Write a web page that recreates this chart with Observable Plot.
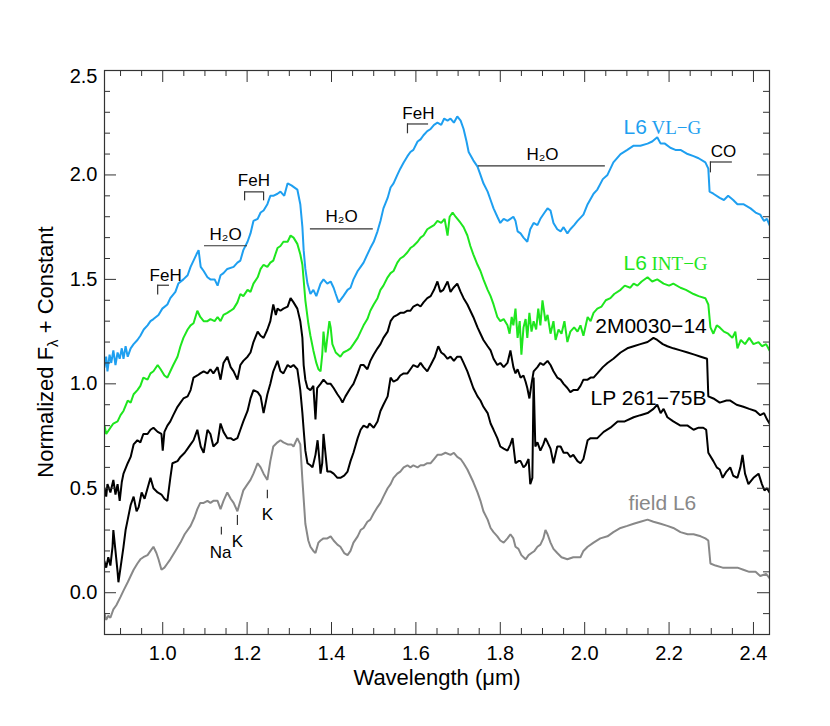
<!DOCTYPE html>
<html><head><meta charset="utf-8">
<script src="https://cdn.jsdelivr.net/npm/d3@7"></script>
<script src="https://cdn.jsdelivr.net/npm/@observablehq/plot@0.6"></script>
<style>body{margin:0;background:#fff}</style>
</head><body><div id="chart"></div>
<script>
// ---- data: [wavelength (um), normalized flux + constant] ----
const vlg = [[0.862,1.08],[0.866,1.13],[0.869,1.06],[0.874,1.14],[0.878,1.10],[0.883,1.16],[0.888,1.09],[0.893,1.15],[0.898,1.12],[0.903,1.17],[0.907,1.12],[0.912,1.18],[0.917,1.13],[0.924,1.17],[0.931,1.19],[0.940,1.21],[0.947,1.23],[0.955,1.26],[0.964,1.28],[0.971,1.30],[0.978,1.31],[0.990,1.33],[0.999,1.36],[1.011,1.38],[1.018,1.41],[1.030,1.44],[1.037,1.48],[1.049,1.50],[1.059,1.52],[1.066,1.56],[1.073,1.59],[1.080,1.62],[1.085,1.64],[1.090,1.56],[1.097,1.54],[1.106,1.51],[1.113,1.50],[1.123,1.50],[1.130,1.47],[1.137,1.52],[1.144,1.53],[1.153,1.55],[1.168,1.56],[1.177,1.58],[1.184,1.59],[1.191,1.64],[1.201,1.68],[1.208,1.72],[1.215,1.78],[1.225,1.79],[1.232,1.82],[1.239,1.83],[1.248,1.86],[1.255,1.90],[1.262,1.90],[1.272,1.91],[1.279,1.92],[1.288,1.90],[1.296,1.96],[1.305,1.95],[1.319,1.93],[1.326,1.86],[1.331,1.75],[1.334,1.64],[1.338,1.55],[1.343,1.48],[1.350,1.43],[1.357,1.45],[1.364,1.42],[1.374,1.48],[1.381,1.50],[1.390,1.48],[1.398,1.49],[1.405,1.46],[1.410,1.43],[1.417,1.39],[1.428,1.42],[1.438,1.45],[1.445,1.46],[1.452,1.50],[1.462,1.54],[1.469,1.56],[1.476,1.58],[1.485,1.62],[1.492,1.65],[1.500,1.68],[1.509,1.73],[1.516,1.78],[1.523,1.84],[1.533,1.89],[1.540,1.94],[1.547,1.96],[1.556,2.00],[1.563,2.03],[1.571,2.06],[1.580,2.09],[1.587,2.11],[1.594,2.12],[1.604,2.16],[1.611,2.17],[1.618,2.19],[1.627,2.21],[1.635,2.22],[1.643,2.24],[1.651,2.25],[1.660,2.24],[1.667,2.27],[1.675,2.26],[1.682,2.27],[1.690,2.25],[1.698,2.28],[1.706,2.26],[1.713,2.22],[1.720,2.16],[1.725,2.11],[1.736,2.07],[1.746,2.04],[1.753,2.00],[1.760,1.96],[1.770,1.92],[1.777,1.88],[1.784,1.84],[1.793,1.80],[1.800,1.77],[1.808,1.79],[1.817,1.78],[1.824,1.79],[1.831,1.80],[1.836,1.78],[1.841,1.73],[1.848,1.72],[1.855,1.70],[1.864,1.68],[1.871,1.74],[1.879,1.77],[1.888,1.76],[1.895,1.79],[1.905,1.82],[1.912,1.84],[1.919,1.83],[1.926,1.77],[1.935,1.74],[1.943,1.73],[1.950,1.75],[1.959,1.72],[1.966,1.74],[1.975,1.76],[1.983,1.78],[1.997,1.81],[2.007,1.86],[2.021,1.91],[2.030,1.93],[2.043,1.98],[2.054,2.00],[2.068,2.06],[2.085,2.10],[2.101,2.12],[2.116,2.14],[2.132,2.14],[2.149,2.15],[2.160,2.16],[2.172,2.18],[2.180,2.15],[2.190,2.15],[2.203,2.13],[2.215,2.12],[2.227,2.12],[2.244,2.10],[2.258,2.09],[2.270,2.08],[2.286,2.06],[2.293,2.03],[2.296,1.92],[2.305,1.91],[2.320,1.89],[2.330,1.88],[2.340,1.90],[2.352,1.88],[2.362,1.86],[2.376,1.86],[2.393,1.84],[2.405,1.82],[2.416,1.81],[2.425,1.78],[2.432,1.79],[2.438,1.76]];

const intg = [[0.862,0.80],[0.866,0.76],[0.876,0.79],[0.883,0.81],[0.893,0.82],[0.900,0.85],[0.907,0.87],[0.917,0.92],[0.924,0.91],[0.931,0.95],[0.940,0.97],[0.947,0.99],[0.954,1.03],[0.964,1.02],[0.971,1.05],[0.978,1.06],[0.988,1.09],[0.995,1.07],[1.004,1.04],[1.011,1.03],[1.018,1.06],[1.025,1.09],[1.035,1.13],[1.042,1.18],[1.049,1.22],[1.059,1.26],[1.066,1.28],[1.073,1.29],[1.082,1.35],[1.089,1.32],[1.097,1.30],[1.106,1.30],[1.113,1.31],[1.123,1.30],[1.130,1.32],[1.137,1.30],[1.144,1.33],[1.153,1.34],[1.161,1.35],[1.168,1.36],[1.177,1.39],[1.184,1.43],[1.191,1.42],[1.201,1.45],[1.208,1.44],[1.215,1.48],[1.225,1.51],[1.232,1.55],[1.239,1.57],[1.248,1.56],[1.255,1.58],[1.262,1.59],[1.272,1.65],[1.279,1.66],[1.286,1.68],[1.296,1.68],[1.303,1.71],[1.310,1.70],[1.319,1.67],[1.326,1.62],[1.331,1.57],[1.338,1.40],[1.345,1.29],[1.350,1.23],[1.357,1.16],[1.364,1.10],[1.369,1.07],[1.374,1.06],[1.378,1.14],[1.381,1.25],[1.386,1.15],[1.390,1.22],[1.395,1.30],[1.398,1.27],[1.402,1.19],[1.410,1.15],[1.421,1.13],[1.428,1.15],[1.438,1.16],[1.445,1.17],[1.452,1.19],[1.462,1.22],[1.469,1.25],[1.476,1.28],[1.485,1.31],[1.492,1.35],[1.500,1.38],[1.509,1.41],[1.516,1.45],[1.523,1.47],[1.533,1.51],[1.540,1.53],[1.547,1.54],[1.556,1.58],[1.563,1.60],[1.571,1.61],[1.580,1.63],[1.587,1.65],[1.594,1.66],[1.604,1.68],[1.611,1.70],[1.618,1.71],[1.627,1.74],[1.635,1.75],[1.643,1.76],[1.651,1.78],[1.660,1.77],[1.668,1.79],[1.675,1.71],[1.680,1.80],[1.687,1.82],[1.694,1.80],[1.706,1.77],[1.713,1.75],[1.722,1.71],[1.729,1.66],[1.736,1.62],[1.746,1.57],[1.753,1.54],[1.760,1.50],[1.770,1.45],[1.777,1.42],[1.784,1.38],[1.793,1.32],[1.800,1.30],[1.808,1.31],[1.817,1.28],[1.822,1.24],[1.827,1.32],[1.831,1.28],[1.836,1.36],[1.841,1.22],[1.846,1.30],[1.850,1.14],[1.855,1.27],[1.860,1.31],[1.864,1.22],[1.869,1.34],[1.874,1.25],[1.879,1.30],[1.885,1.26],[1.890,1.36],[1.895,1.28],[1.900,1.40],[1.907,1.30],[1.912,1.33],[1.919,1.24],[1.926,1.30],[1.931,1.21],[1.938,1.26],[1.945,1.24],[1.952,1.30],[1.959,1.20],[1.966,1.25],[1.975,1.27],[1.983,1.25],[1.990,1.28],[1.997,1.23],[2.007,1.32],[2.014,1.30],[2.021,1.34],[2.030,1.36],[2.040,1.37],[2.050,1.40],[2.061,1.41],[2.070,1.43],[2.085,1.45],[2.095,1.47],[2.108,1.46],[2.116,1.48],[2.125,1.47],[2.135,1.49],[2.149,1.51],[2.160,1.49],[2.172,1.50],[2.187,1.48],[2.200,1.47],[2.210,1.48],[2.227,1.46],[2.240,1.45],[2.258,1.43],[2.270,1.42],[2.286,1.41],[2.293,1.38],[2.298,1.27],[2.305,1.24],[2.313,1.28],[2.320,1.27],[2.330,1.25],[2.340,1.24],[2.350,1.22],[2.357,1.25],[2.362,1.17],[2.370,1.21],[2.380,1.19],[2.390,1.22],[2.400,1.19],[2.412,1.20],[2.420,1.18],[2.430,1.19],[2.438,1.16]];

const m0030 = [[0.862,0.50],[0.866,0.46],[0.869,0.52],[0.876,0.48],[0.883,0.54],[0.888,0.47],[0.893,0.52],[0.898,0.44],[0.903,0.53],[0.907,0.57],[0.917,0.62],[0.924,0.65],[0.931,0.71],[0.940,0.73],[0.947,0.72],[0.954,0.76],[0.964,0.76],[0.971,0.78],[0.978,0.79],[0.988,0.77],[0.997,0.76],[1.000,0.68],[1.004,0.77],[1.011,0.80],[1.018,0.82],[1.025,0.85],[1.035,0.89],[1.042,0.91],[1.049,0.93],[1.059,0.94],[1.066,0.97],[1.073,1.03],[1.082,1.04],[1.089,1.05],[1.097,1.06],[1.106,1.05],[1.113,1.07],[1.120,1.05],[1.130,1.08],[1.137,1.02],[1.144,1.10],[1.153,1.13],[1.161,1.08],[1.168,1.06],[1.177,1.02],[1.184,1.09],[1.191,1.11],[1.201,1.13],[1.208,1.15],[1.215,1.20],[1.225,1.25],[1.232,1.23],[1.239,1.22],[1.248,1.26],[1.255,1.30],[1.262,1.38],[1.268,1.33],[1.272,1.36],[1.279,1.35],[1.286,1.36],[1.296,1.37],[1.303,1.41],[1.310,1.39],[1.319,1.36],[1.326,1.30],[1.331,1.22],[1.334,1.09],[1.338,1.02],[1.343,0.98],[1.350,0.97],[1.357,0.99],[1.362,0.83],[1.366,0.98],[1.374,1.00],[1.381,1.02],[1.390,1.00],[1.398,1.00],[1.405,0.98],[1.414,0.95],[1.421,0.93],[1.426,0.91],[1.433,0.94],[1.445,0.98],[1.452,1.00],[1.462,1.05],[1.469,1.09],[1.476,1.09],[1.485,1.07],[1.492,1.11],[1.500,1.14],[1.509,1.17],[1.516,1.19],[1.523,1.22],[1.533,1.25],[1.540,1.30],[1.547,1.32],[1.556,1.33],[1.563,1.34],[1.571,1.34],[1.580,1.35],[1.587,1.35],[1.594,1.37],[1.604,1.38],[1.611,1.37],[1.618,1.39],[1.627,1.41],[1.635,1.42],[1.643,1.45],[1.651,1.49],[1.658,1.44],[1.665,1.45],[1.675,1.49],[1.682,1.44],[1.689,1.46],[1.698,1.48],[1.706,1.44],[1.713,1.41],[1.722,1.38],[1.729,1.35],[1.736,1.32],[1.746,1.27],[1.753,1.24],[1.760,1.21],[1.770,1.18],[1.777,1.16],[1.784,1.12],[1.793,1.09],[1.800,1.10],[1.808,1.08],[1.817,1.10],[1.824,1.16],[1.831,1.08],[1.836,1.05],[1.841,1.07],[1.848,1.03],[1.855,1.04],[1.860,1.01],[1.864,0.98],[1.869,0.93],[1.874,1.00],[1.879,1.06],[1.888,1.08],[1.895,1.10],[1.902,1.09],[1.912,1.11],[1.919,1.09],[1.926,1.06],[1.935,1.03],[1.943,1.02],[1.950,1.00],[1.959,0.98],[1.966,0.96],[1.973,0.97],[1.983,0.97],[1.990,0.99],[1.997,1.02],[2.007,1.02],[2.014,1.03],[2.021,1.03],[2.030,1.05],[2.043,1.08],[2.054,1.10],[2.068,1.12],[2.085,1.15],[2.101,1.17],[2.116,1.18],[2.132,1.19],[2.149,1.20],[2.163,1.22],[2.172,1.21],[2.185,1.19],[2.196,1.18],[2.210,1.17],[2.227,1.16],[2.244,1.15],[2.260,1.14],[2.275,1.13],[2.290,1.12],[2.293,0.94],[2.305,0.93],[2.320,0.91],[2.336,0.92],[2.345,0.92],[2.360,0.90],[2.376,0.89],[2.390,0.88],[2.405,0.87],[2.416,0.85],[2.425,0.86],[2.432,0.83],[2.438,0.81]];

const lp261 = [[0.862,0.15],[0.866,0.12],[0.871,0.17],[0.876,0.13],[0.881,0.22],[0.883,0.30],[0.888,0.20],[0.893,0.10],[0.895,0.05],[0.900,0.12],[0.907,0.22],[0.912,0.30],[0.917,0.35],[0.924,0.42],[0.931,0.46],[0.938,0.39],[0.943,0.41],[0.950,0.48],[0.957,0.45],[0.964,0.50],[0.971,0.55],[0.978,0.50],[0.988,0.48],[0.997,0.47],[1.004,0.45],[1.011,0.44],[1.018,0.55],[1.023,0.62],[1.035,0.63],[1.042,0.65],[1.052,0.67],[1.059,0.69],[1.066,0.71],[1.073,0.73],[1.082,0.78],[1.090,0.70],[1.097,0.67],[1.106,0.78],[1.113,0.76],[1.120,0.70],[1.130,0.72],[1.137,0.81],[1.144,0.77],[1.153,0.74],[1.161,0.74],[1.168,0.73],[1.177,0.74],[1.184,0.78],[1.191,0.82],[1.201,0.87],[1.208,0.93],[1.215,0.97],[1.225,0.96],[1.232,0.94],[1.239,0.86],[1.248,0.95],[1.255,1.00],[1.262,1.06],[1.272,1.11],[1.279,1.06],[1.286,1.05],[1.296,1.09],[1.303,1.08],[1.310,1.09],[1.319,1.07],[1.326,0.97],[1.331,0.86],[1.334,0.78],[1.338,0.68],[1.343,0.62],[1.350,0.61],[1.355,0.60],[1.362,0.66],[1.367,0.73],[1.372,0.62],[1.374,0.57],[1.378,0.62],[1.381,0.76],[1.386,0.66],[1.390,0.58],[1.398,0.58],[1.405,0.57],[1.414,0.55],[1.421,0.55],[1.430,0.56],[1.438,0.58],[1.445,0.63],[1.452,0.67],[1.462,0.74],[1.469,0.78],[1.476,0.80],[1.485,0.79],[1.490,0.81],[1.500,0.79],[1.509,0.82],[1.516,0.87],[1.523,0.90],[1.533,0.94],[1.540,1.03],[1.547,1.01],[1.556,1.02],[1.563,1.04],[1.571,1.05],[1.580,1.05],[1.587,1.07],[1.594,1.09],[1.604,1.08],[1.611,1.10],[1.618,1.08],[1.627,1.06],[1.635,1.09],[1.645,1.13],[1.653,1.18],[1.660,1.15],[1.667,1.14],[1.675,1.12],[1.682,1.13],[1.690,1.11],[1.698,1.13],[1.706,1.13],[1.713,1.10],[1.722,1.06],[1.729,1.02],[1.736,0.98],[1.746,0.94],[1.753,0.92],[1.760,0.89],[1.770,0.86],[1.777,0.81],[1.784,0.78],[1.793,0.74],[1.800,0.70],[1.808,0.69],[1.817,0.68],[1.824,0.71],[1.829,0.74],[1.836,0.62],[1.843,0.63],[1.848,0.63],[1.855,0.60],[1.860,0.61],[1.867,0.64],[1.871,0.52],[1.876,0.55],[1.879,1.03],[1.883,0.70],[1.888,0.72],[1.895,0.68],[1.902,0.71],[1.907,0.74],[1.912,0.72],[1.919,0.69],[1.926,0.62],[1.935,0.70],[1.943,0.70],[1.950,0.67],[1.959,0.67],[1.966,0.65],[1.973,0.66],[1.983,0.63],[1.990,0.62],[1.997,0.64],[2.007,0.73],[2.014,0.74],[2.030,0.74],[2.045,0.77],[2.061,0.79],[2.078,0.82],[2.095,0.82],[2.116,0.84],[2.132,0.85],[2.149,0.86],[2.163,0.88],[2.172,0.90],[2.180,0.86],[2.187,0.88],[2.196,0.84],[2.210,0.82],[2.227,0.80],[2.244,0.80],[2.258,0.78],[2.270,0.79],[2.281,0.79],[2.288,0.78],[2.293,0.67],[2.305,0.63],[2.313,0.60],[2.320,0.59],[2.327,0.55],[2.336,0.58],[2.345,0.60],[2.352,0.56],[2.362,0.55],[2.369,0.60],[2.374,0.66],[2.380,0.57],[2.388,0.52],[2.400,0.55],[2.412,0.57],[2.420,0.52],[2.426,0.49],[2.432,0.50],[2.438,0.48]];

const fieldL6 = [[0.862,-0.10],[0.866,-0.13],[0.871,-0.11],[0.876,-0.12],[0.883,-0.08],[0.890,-0.06],[0.900,-0.02],[0.907,0.01],[0.917,0.05],[0.924,0.08],[0.931,0.11],[0.940,0.14],[0.947,0.16],[0.954,0.17],[0.964,0.18],[0.971,0.20],[0.978,0.22],[0.985,0.19],[0.990,0.16],[0.997,0.11],[1.004,0.12],[1.011,0.14],[1.018,0.16],[1.030,0.20],[1.042,0.24],[1.052,0.28],[1.066,0.32],[1.075,0.36],[1.082,0.40],[1.089,0.43],[1.097,0.43],[1.106,0.44],[1.113,0.43],[1.120,0.44],[1.130,0.44],[1.137,0.40],[1.144,0.44],[1.153,0.48],[1.161,0.45],[1.168,0.43],[1.177,0.39],[1.184,0.44],[1.191,0.49],[1.201,0.52],[1.208,0.54],[1.215,0.57],[1.225,0.62],[1.232,0.60],[1.239,0.57],[1.248,0.54],[1.255,0.63],[1.262,0.70],[1.272,0.72],[1.279,0.73],[1.286,0.72],[1.296,0.71],[1.305,0.71],[1.310,0.70],[1.319,0.74],[1.326,0.71],[1.331,0.54],[1.338,0.33],[1.345,0.25],[1.350,0.22],[1.357,0.20],[1.362,0.19],[1.369,0.24],[1.374,0.25],[1.381,0.26],[1.390,0.26],[1.398,0.27],[1.405,0.25],[1.414,0.23],[1.421,0.22],[1.430,0.19],[1.438,0.18],[1.445,0.20],[1.452,0.24],[1.462,0.27],[1.469,0.30],[1.476,0.31],[1.485,0.34],[1.492,0.35],[1.500,0.38],[1.509,0.41],[1.516,0.43],[1.523,0.46],[1.533,0.50],[1.540,0.52],[1.547,0.55],[1.556,0.57],[1.563,0.58],[1.571,0.60],[1.580,0.61],[1.587,0.60],[1.594,0.61],[1.604,0.60],[1.611,0.61],[1.618,0.61],[1.627,0.62],[1.635,0.62],[1.643,0.64],[1.651,0.66],[1.660,0.66],[1.670,0.67],[1.682,0.66],[1.690,0.67],[1.698,0.65],[1.706,0.64],[1.713,0.62],[1.722,0.59],[1.729,0.56],[1.736,0.53],[1.746,0.48],[1.753,0.44],[1.760,0.39],[1.770,0.35],[1.777,0.31],[1.784,0.29],[1.793,0.27],[1.800,0.25],[1.808,0.24],[1.817,0.26],[1.824,0.28],[1.831,0.26],[1.836,0.22],[1.843,0.21],[1.850,0.18],[1.860,0.16],[1.867,0.18],[1.874,0.19],[1.881,0.20],[1.888,0.22],[1.895,0.23],[1.902,0.26],[1.907,0.30],[1.912,0.28],[1.919,0.24],[1.926,0.21],[1.935,0.19],[1.945,0.17],[1.959,0.16],[1.973,0.17],[1.990,0.17],[1.997,0.20],[2.007,0.22],[2.021,0.24],[2.037,0.26],[2.054,0.27],[2.068,0.29],[2.085,0.31],[2.101,0.32],[2.116,0.33],[2.132,0.34],[2.149,0.35],[2.163,0.34],[2.180,0.33],[2.196,0.32],[2.210,0.31],[2.227,0.29],[2.244,0.28],[2.258,0.28],[2.275,0.27],[2.286,0.26],[2.293,0.25],[2.298,0.14],[2.310,0.13],[2.327,0.12],[2.345,0.12],[2.362,0.12],[2.376,0.11],[2.390,0.10],[2.405,0.10],[2.416,0.08],[2.430,0.09],[2.438,0.07]];

// ---- tick values ----
const xMajor = [1.0, 1.2, 1.4, 1.6, 1.8, 2.0, 2.2, 2.4];
const xMinor = [0.90,0.95,1.05,1.10,1.15,1.25,1.30,1.35,1.45,1.50,1.55,1.65,1.70,1.75,1.85,1.90,1.95,2.05,2.10,2.15,2.25,2.30,2.35];
const yMajor = [0.0, 0.5, 1.0, 1.5, 2.0, 2.5];
const yMinor = [-0.1,0.1,0.2,0.3,0.4,0.6,0.7,0.8,0.9,1.1,1.2,1.3,1.4,1.6,1.7,1.8,1.9,2.1,2.2,2.3,2.4];

// ---- feature annotations (data coordinates) ----
const featureLabels = [
  {t:"FeH", w:1.007, f:1.494}, {t:"H\u2082O", w:1.149, f:1.688}, {t:"FeH", w:1.216, f:1.948},
  {t:"H\u2082O", w:1.424, f:1.773}, {t:"FeH", w:1.606, f:2.267}, {t:"H\u2082O", w:1.900, f:2.071},
  {t:"CO", w:2.329, f:2.086}, {t:"Na", w:1.137, f:0.165}, {t:"K", w:1.177, f:0.218}, {t:"K", w:1.248, f:0.347}
];
const featureBars = [
  {w1:0.988, w2:1.016, f:1.472}, {w1:1.099, w2:1.201, f:1.661}, {w1:1.194, w2:1.239, f:1.919},
  {w1:1.350, w2:1.499, f:1.742}, {w1:1.580, w2:1.630, f:2.244}, {w1:1.748, w2:2.049, f:2.043},
  {w1:2.298, w2:2.350, f:2.062}
];
const featureTicks = [
  {w:0.988, f1:1.472, f2:1.425}, {w:1.194, f1:1.919, f2:1.876}, {w:1.239, f1:1.919, f2:1.876},
  {w:1.580, f1:2.244, f2:2.197}, {w:2.298, f1:2.062, f2:2.010},
  {w:1.139, f1:0.314, f2:0.276}, {w:1.177, f1:0.370, f2:0.322}, {w:1.248, f1:0.490, f2:0.450}
];

// ---- layout ----
const W0 = 830, H0 = 726, mL = 104, mR = 61, mT = 70, mB = 92;
const fw = W0 - mL - mR, fh = H0 - mT - mB;
const BLUE = "#1e9ff0", GREEN = "#1ee61e", GREY = "#888888", INK = "#222";
const SANS = "'Liberation Sans', Arial, Helvetica, sans-serif";
const SERIF = "'Liberation Serif', 'Times New Roman', serif";

const rows = a => a.map(([w, f]) => ({w, f}));
const spec = (a, color) => Plot.line(rows(a), {x: "w", y: "f", curve: "linear", stroke: color, strokeWidth: 2, strokeLinejoin: "miter", clip: true});

const chart = Plot.plot({
  width: W0, height: H0,
  marginLeft: mL, marginRight: mR, marginTop: mT, marginBottom: mB,
  style: {fontFamily: SANS, fontSize: "20px", background: "#fff", color: INK, overflow: "visible"},
  x: {domain: [0.862, 2.438]},
  y: {domain: [-0.2, 2.5]},
  marks: [
    spec(fieldL6, GREY),
    spec(lp261, "#000"),
    spec(m0030, "#000"),
    spec(intg, GREEN),
    spec(vlg, BLUE),
    // feature markers
    Plot.ruleY(featureBars, {x1: "w1", x2: "w2", y: "f", stroke: "#333", strokeWidth: 1.2}),
    Plot.ruleX(featureTicks, {x: "w", y1: "f1", y2: "f2", stroke: "#333", strokeWidth: 1.2}),
    Plot.text(featureLabels, {x: "w", y: "f", text: "t", fontSize: 17, lineAnchor: "bottom", fill: "#000"}),
    // series labels
    Plot.text(["L6"], {x: 2.092, y: 2.196, text: d => d, fill: BLUE, fontSize: 21, textAnchor: "start", lineAnchor: "bottom"}),
    Plot.text(["VL\u2212G"], {x: 2.092, y: 2.196, dx: 28, text: d => d, fill: BLUE, fontSize: 19, fontFamily: SERIF, textAnchor: "start", lineAnchor: "bottom"}),
    Plot.text(["L6"], {x: 2.092, y: 1.547, text: d => d, fill: GREEN, fontSize: 21, textAnchor: "start", lineAnchor: "bottom"}),
    Plot.text(["INT\u2212G"], {x: 2.092, y: 1.547, dx: 28, text: d => d, fill: GREEN, fontSize: 19, fontFamily: SERIF, textAnchor: "start", lineAnchor: "bottom"}),
    Plot.text(["2M0030\u221214"], {x: 2.025, y: 1.245, text: d => d, fill: "#000", fontSize: 21, textAnchor: "start", lineAnchor: "bottom"}),
    Plot.text(["LP 261\u221275B"], {x: 2.014, y: 0.897, text: d => d, fill: "#000", fontSize: 21, textAnchor: "start", lineAnchor: "bottom"}),
    Plot.text(["field L6"], {x: 2.104, y: 0.395, text: d => d, fill: GREY, fontSize: 21, textAnchor: "start", lineAnchor: "bottom"}),
    // inward ticks on all four sides
    Plot.tickX(xMajor, {x: d => d, insetTop: fh - 12, stroke: "#333"}),
    Plot.tickX(xMajor, {x: d => d, insetBottom: fh - 12, stroke: "#333"}),
    Plot.tickX(xMinor, {x: d => d, insetTop: fh - 6, stroke: "#333"}),
    Plot.tickX(xMinor, {x: d => d, insetBottom: fh - 6, stroke: "#333"}),
    Plot.tickY(yMajor, {y: d => d, insetRight: fw - 12, stroke: "#333"}),
    Plot.tickY(yMajor, {y: d => d, insetLeft: fw - 12, stroke: "#333"}),
    Plot.tickY(yMinor, {y: d => d, insetRight: fw - 6, stroke: "#333"}),
    Plot.tickY(yMinor, {y: d => d, insetLeft: fw - 6, stroke: "#333"}),
    // tick labels
    Plot.axisX({ticks: xMajor, tickSize: 0, tickPadding: 11, tickFormat: d3.format(".1f"), fontSize: 20, label: null, fill: "#000"}),
    Plot.axisY({ticks: yMajor.slice(0, 5), tickSize: 0, tickPadding: 7, tickFormat: d3.format(".1f"), fontSize: 20, label: null, fill: "#000"}),
    Plot.axisY({ticks: [2.5], tickSize: 0, tickPadding: 7, tickFormat: d3.format(".1f"), fontSize: 20, label: null, fill: "#000", dy: 6}),
    Plot.text(["Wavelength (\u03bcm)"], {frameAnchor: "bottom", dy: 50, text: d => d, fontSize: 22, lineAnchor: "bottom", fill: "#000"}),
    Plot.frame({stroke: "#333", strokeWidth: 1.2})
  ]
});

// y-axis title with subscript lambda
const svg = d3.select(chart);
const yt = svg.append("text")
  .attr("transform", `translate(53,${mT + fh / 2}) rotate(-90)`)
  .attr("text-anchor", "middle")
  .attr("font-size", 22)
  .attr("font-family", SANS)
  .attr("fill", "#000");
yt.append("tspan").text("Normalized F");
yt.append("tspan").attr("font-size", 15).attr("dy", 5).text("\u03bb");
yt.append("tspan").attr("dy", -5).text(" + Constant");

document.getElementById("chart").appendChild(chart);
</script>
</body></html>
